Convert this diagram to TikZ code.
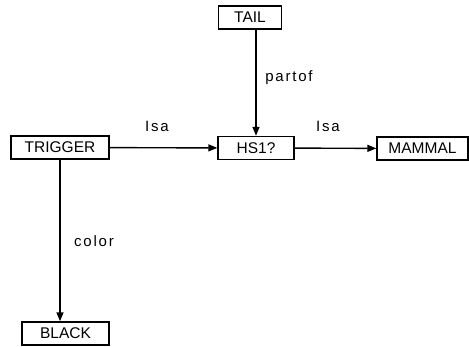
\documentclass[tikz,border=0pt]{standalone}
\usepackage{fontspec}
\setmainfont{Liberation Sans}
\newfontfamily\lblfont[LetterSpace=12]{Liberation Sans}
\usetikzlibrary{arrows.meta}
\begin{document}
\begin{tikzpicture}[x=1pt,y=-1pt,
  box/.style={draw, line width=1.4pt, inner sep=0pt, minimum height=23pt, font=\fontsize{15.5}{15.5}\selectfont},
  lbl/.style={font=\lblfont\fontsize{15}{15}\selectfont},
  arr/.style={line width=1.4pt, -{Triangle[length=9pt,width=7pt]}}]
\useasboundingbox (0,0) rectangle (469,346);
\node[box, minimum width=98pt] (trigger) at (60,147.5) {TRIGGER};
\node[box, minimum width=76pt] (hs) at (256,148) {HS1?};
\node[box, minimum width=63pt] (tail) at (250,17.5) {TAIL};
\node[box, minimum width=91pt] (mammal) at (422.5,148.5) {MAMMAL};
\node[box, minimum width=87pt] (black) at (65.5,333.5) {BLACK};
\draw[arr] (trigger) -- (hs);
\draw[arr] (hs) -- (mammal);
\draw[arr] (tail.south -| hs.north) -- (hs.north);
\draw[arr] (trigger.south) -- (trigger.south |- black.north);
\node[lbl] (l1) at (157,126) {Isa};
\node[lbl] (l2) at (328,126) {Isa};
\node[lbl] (l3) at (289,78) {partof};
\node[lbl] (l4) at (94,241) {color};
\end{tikzpicture}
\end{document}
